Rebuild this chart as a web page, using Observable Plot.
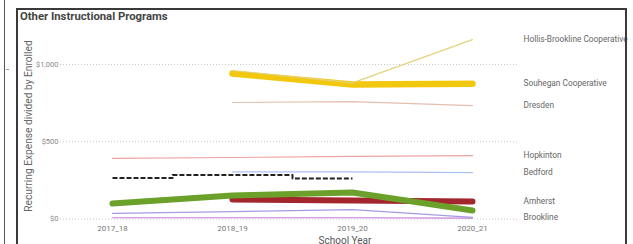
<!DOCTYPE html>
<html>
<head>
<meta charset="utf-8">
<script src="https://cdn.jsdelivr.net/npm/d3@7"></script>
<script src="https://cdn.jsdelivr.net/npm/@observablehq/plot@0.6"></script>
<style>
  html, body { margin: 0; padding: 0; background: #fff; }
  #wrap { position: relative; width: 633px; height: 244px; overflow: hidden; background: #fff; font-family: "Open Sans", "DejaVu Sans", sans-serif; }
  #wrap svg { position: absolute; left: 0; top: 0; }
  .abs { position: absolute; }
</style>
</head>
<body>
<div id="wrap">
  <div class="abs" style="left:4px;top:0;width:1px;height:244px;background:#555"></div>
  <div class="abs" style="left:6px;top:69px;width:3px;height:1px;background:#999"></div>
  <div id="chart"></div>
  <div class="abs" style="left:16px;top:8px;width:611px;height:240px;border:2px solid #3a3a3a;box-sizing:border-box"></div>
  <div class="abs" style="left:20px;top:10px;font-family:Roboto, sans-serif;font-weight:bold;font-size:11.3px;color:#444;white-space:nowrap">Other Instructional Programs</div>
  <div class="abs" style="left:28px;top:126px;width:0;height:0">
    <div style="position:absolute;transform:translate(-50%,-50%) rotate(-90deg);white-space:nowrap;font-family:Roboto, sans-serif;font-size:10.2px;color:#666">Recurring Expense divided by Enrolled</div>
  </div>
  <div class="abs" style="left:345px;top:240px;width:0;height:0">
    <div style="position:absolute;transform:translate(-50%,-50%);white-space:nowrap;font-family:Roboto, sans-serif;font-size:10px;color:#555">School Year</div>
  </div>
</div>
<script>
const years = ["2017_18", "2018_19", "2019_20", "2020_21"];
const yTicks = [0, 500, 1000];

const hollis    = [null, 961, 881, 1161];
const souhegan  = [null, 941, 870, 876];
const dresden   = [null, 754, 760, 734];
const hopkinton = [393, 398, 405, 410];
const bedford   = [null, 305, 305, 300];
const average   = [265, 285, 262, null];
const greenLine = [100, 152, 171, 55];
const amherst   = [null, 126, 120, 113];
const brookline = [36, 48, 61, 10];
const magenta   = [8, 8, 8, 6];

const series = [
  {name: "Hopkinton", values: hopkinton, color: "#eda3a3", width: 1.2, label: true},
  {name: "Dresden", values: dresden, color: "#e6bfae", width: 1.2, label: true},
  {name: "Bedford", values: bedford, color: "#a9c4f2", width: 1.2, label: true},
  {name: "Magenta", values: magenta, color: "#c77fd8", width: 1.2, label: false},
  {name: "Brookline", values: brookline, color: "#a39be4", width: 1.2, label: true},
  {name: "Average", values: average, color: "#222", width: 2, dash: "5,2", curve: "step", label: false},
  {name: "Amherst", values: amherst, color: "#a3262d", width: 6, label: true},
  {name: "Green", values: greenLine, color: "#6ba12a", width: 6, label: false},
  {name: "Souhegan Cooperative", values: souhegan, color: "#f2c80f", width: 6.5, label: true},
  {name: "Hollis-Brookline Cooperative", values: hollis, color: "#e4d27c", width: 1.2, label: true}
];

const toRows = s => s.values.map((v, i) => ({series: s.name, year: years[i], value: v})).filter(d => d.value != null);

const marks = [
  Plot.ruleY(yTicks, {stroke: "#c8c8c8", strokeDasharray: "1,2", strokeWidth: 1})
];
for (const s of series) {
  marks.push(Plot.line(toRows(s), {
    x: "year", y: "value", stroke: s.color, strokeWidth: s.width,
    strokeDasharray: s.dash, curve: s.curve || "linear",
    strokeLinecap: s.dash ? "butt" : "round", strokeLinejoin: "round"
  }));
}
const labelRows = series.filter(s => s.label).map(s => {
  const rows = toRows(s);
  return rows[rows.length - 1];
});
marks.push(Plot.text(labelRows, {
  x: "year", y: "value", text: "series", textAnchor: "start", dx: 51,
  fill: "#666", fontSize: 8.3, fontFamily: "Roboto, sans-serif"
}));

const chart = Plot.plot({
  width: 633,
  height: 244,
  marginLeft: 60,
  marginRight: 115,
  marginTop: 20,
  marginBottom: 20,
  style: {background: "transparent", fontFamily: "Roboto, sans-serif", overflow: "visible"},
  x: {type: "point", domain: years, range: [112, 472], padding: 0, label: null},
  y: {domain: [0, 1000], range: [218.5, 64], label: null},
  marks: [
    ...marks,
    Plot.axisX({tickSize: 0, tickPadding: 1, fill: "#777", fontSize: 8, label: null}),
    Plot.axisY(yTicks, {tickSize: 0, tickPadding: 2, fill: "#888", fontSize: 7.5, tickFormat: d => "$" + d3.format(",")(d), label: null})
  ]
});
document.getElementById("chart").appendChild(chart);
</script>
</body>
</html>
